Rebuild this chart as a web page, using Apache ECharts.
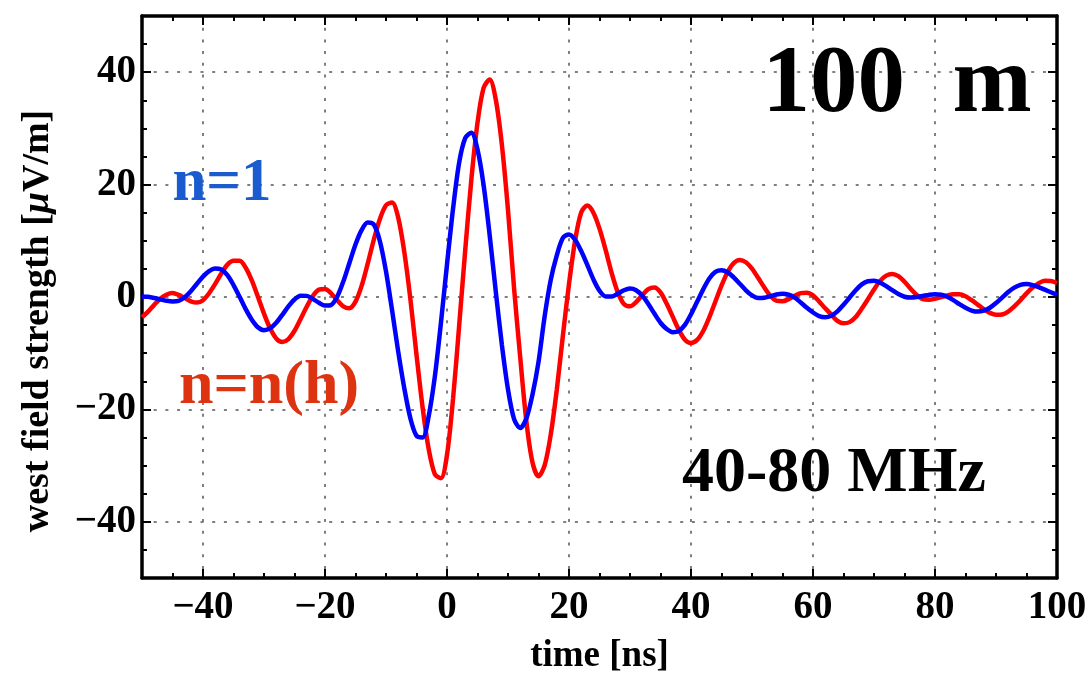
<!DOCTYPE html>
<html>
<head>
<meta charset="utf-8">
<script src="https://cdn.jsdelivr.net/npm/echarts@6/dist/echarts.min.js"></script>
<style>
html,body{margin:0;padding:0;background:#fff;}
#chart{width:1092px;height:674px;}
</style>
</head>
<body>
<div id="chart"></div>
<script>
// time axis (ns), one sample per ns from -50 to 100
const timeStart = -50;
const redNH = [
 -3.6,-2.6,-1.4,-0.3,0.4,0.7,0.38,-0.2,-0.76,-1.0,
 -0.58,0.67,2.34,4.17,5.76,6.45,6.44,5.21,2.95,0.06,
 -2.96,-5.58,-7.37,-8.0,-7.48,-6.0,-3.9,-1.73,0.17,1.31,
 1.43,0.66,-0.57,-1.65,-2.0,-0.83,1.97,5.94,10.19,13.88,
 16.33,16.82,14.13,8.0,-0.39,-10.27,-19.66,-27.07,-31.5,-32.26,
 -28.08,-18,-5,8.5,21,31,37.2,38.7,35.1,27.06,
 15.47,1.5,-10.7,-22.0,-29.35,-31.9,-29.97,-24.53,-16.48,-6.84,
 2.32,10.03,15.05,16.26,15.0,12.16,8.38,4.24,0.82,-1.25,
 -1.66,-0.92,0.31,1.39,1.68,0.81,-1.17,-3.5,-5.82,-7.6,
 -8.2,-7.64,-6.04,-3.61,-0.8,2.01,4.44,6.04,6.6,6.19,
 5.05,3.42,1.72,0.24,-0.65,-0.76,-0.38,0.21,0.69,0.77,
 0.28,-0.8,-2.01,-3.13,-4.26,-4.69,-4.47,-3.56,-2.06,-0.39,
 1.33,2.87,3.81,4.1,3.7,2.72,1.48,0.37,-0.38,-0.48,
 -0.32,-0.03,0.27,0.47,0.47,0.13,-0.57,-1.35,-2.16,-2.83,
 -3.17,-3.11,-2.61,-1.68,-0.58,0.64,1.68,2.47,2.88,2.85,
 2.5
];
const blueN1 = [
 0.1,0.03,-0.17,-0.43,-0.66,-0.79,-0.69,-0.05,1.03,2.36,
 3.63,4.6,5.07,4.88,3.89,2.13,0.04,-2.16,-4.03,-5.37,
 -5.9,-5.59,-4.6,-3.17,-1.68,-0.44,0.24,0.2,-0.33,-1.03,
 -1.53,-1.41,0.05,2.75,6.05,9.35,11.9,13.25,12.9,9.93,
 4.55,-2.39,-9.7,-16.25,-21.6,-24.7,-25.0,-21.18,-14.2,-4.66,
 5.8,15.78,23.95,28.3,29.24,26.24,19.91,10.96,0.94,-8.54,
 -16.45,-21.72,-23.3,-21.64,-17.43,-11.57,-3.5,3.0,7.4,10.5,
 11.14,10.19,8.18,5.71,3.14,1.12,0.11,0.09,0.6,1.2,
 1.5,1.2,0.25,-1.23,-2.95,-4.58,-5.68,-6.27,-6.07,-4.97,
 -3.08,-0.86,1.36,3.3,4.49,4.78,4.4,3.5,2.35,1.2,
 0.28,-0.18,-0.14,0.14,0.45,0.6,0.43,-0.11,-0.98,-1.92,
 -2.76,-3.39,-3.6,-3.33,-2.56,-1.39,-0.09,1.21,2.25,2.8,
 2.87,2.56,1.94,1.22,0.53,0.05,-0.1,-0.01,0.18,0.38,
 0.49,0.42,0.05,-0.55,-1.27,-1.92,-2.41,-2.6,-2.44,-1.91,
 -1.08,-0.1,0.88,1.66,2.17,2.3,2.12,1.75,1.3,0.85,
 0.4
];
const xTicks = [-40,-20,0,20,40,60,80,100];
const yTicks = [-40,-20,0,20,40];
const xRange = [-50, 100];
const yRange = [-50, 50];

const toPairs = arr => arr.map((v, i) => [timeStart + i, v]);

const FONT = '"Liberation Serif", "Times New Roman", serif';
const gridDash = {color:'#7f7f7f', width:2, type:[3,8.7]};
const tickFmt = v => (v < 0 ? '\u2212' + Math.abs(v) : String(v));

function majorAxis(pos, range, ticks, main, extra) {
  return Object.assign({
    type:'value', position:pos, min:range[0], max:range[1],
    axisLine:{show:true, onZero:false, lineStyle:{color:'#000', width:3.5}},
    axisTick:{show:true, inside:true, length:9, customValues:ticks, lineStyle:{color:'#000', width:2}},
    axisLabel:{show:main, customValues:ticks, color:'#000', fontFamily:FONT, fontWeight:'bold', fontSize:39, formatter:tickFmt},
    splitLine:{show:main, lineStyle:gridDash},
    minorTick:{show:false}
  }, extra || {});
}
function minorAxis(pos, range) {
  return {
    type:'value', position:pos, min:range[0], max:range[1], interval:5,
    axisLine:{show:false, onZero:false},
    axisTick:{show:true, inside:true, length:5, lineStyle:{color:'#000', width:2}},
    axisLabel:{show:false}, splitLine:{show:false}
  };
}

const chart = echarts.init(document.getElementById('chart'), null, {renderer:'canvas'});
chart.setOption({
  animation:false,
  backgroundColor:'#fff',
  grid:{left:142, right:35, top:16, bottom:96, containLabel:false, outerBoundsMode:'none'},
  xAxis:[
    majorAxis('bottom', xRange, xTicks, true, {
      name:'time [ns]', nameLocation:'middle', nameGap:60,
      nameTextStyle:{color:'#000', fontFamily:FONT, fontWeight:'bold', fontSize:37},
      axisLabel:{show:true, customValues:xTicks, color:'#000', fontFamily:FONT, fontWeight:'bold', fontSize:39, margin:10, formatter:tickFmt}
    }),
    minorAxis('bottom', xRange),
    majorAxis('top', xRange, xTicks, false),
    minorAxis('top', xRange)
  ],
  yAxis:[
    majorAxis('left', yRange, yTicks, true, {
      axisLabel:{show:true, customValues:yTicks, color:'#000', fontFamily:FONT, fontWeight:'bold', fontSize:39, margin:6, formatter:tickFmt}
    }),
    minorAxis('left', yRange),
    majorAxis('right', yRange, yTicks, false),
    minorAxis('right', yRange)
  ],
  series:[
    {type:'line', name:'n=n(h)', xAxisIndex:0, yAxisIndex:0, data:toPairs(redNH), showSymbol:false, smooth:0.3,
     lineStyle:{color:'#ff0000', width:4.5}, z:3},
    {type:'line', name:'n=1', xAxisIndex:0, yAxisIndex:0, data:toPairs(blueN1), showSymbol:false, smooth:0.3,
     lineStyle:{color:'#0000ff', width:4.5}, z:4}
  ],
  graphic:[
    {type:'text', x:38, y:321, rotation:Math.PI/2, z:10, style:{
      text:'{a|west field strength [}{b|\u03bc}{a|V/m]}', textAlign:'center', textVerticalAlign:'middle',
      rich:{
        a:{fill:'#000', fontFamily:FONT, fontWeight:'bold', fontSize:38},
        b:{fill:'#000', fontFamily:FONT, fontWeight:'bold', fontStyle:'italic', fontSize:38}
      }}},
    {type:'text', x:897, y:86, z:10, style:{text:'100  m', fill:'#000', font:'bold 95px ' + FONT, textAlign:'center', textVerticalAlign:'middle'}},
    {type:'text', x:222, y:184, z:10, style:{text:'n=1', fill:'#1a5ccf', font:'bold 61px ' + FONT, textAlign:'center', textVerticalAlign:'middle'}},
    {type:'text', x:269, y:387, z:10, style:{text:'n=n(h)', fill:'#dd3311', font:'bold 62px ' + FONT, textAlign:'center', textVerticalAlign:'middle'}},
    {type:'text', x:834, y:474, z:10, style:{text:'40-80 MHz', fill:'#000', font:'bold 64px ' + FONT, textAlign:'center', textVerticalAlign:'middle'}}
  ]
});
</script>
</body>
</html>
